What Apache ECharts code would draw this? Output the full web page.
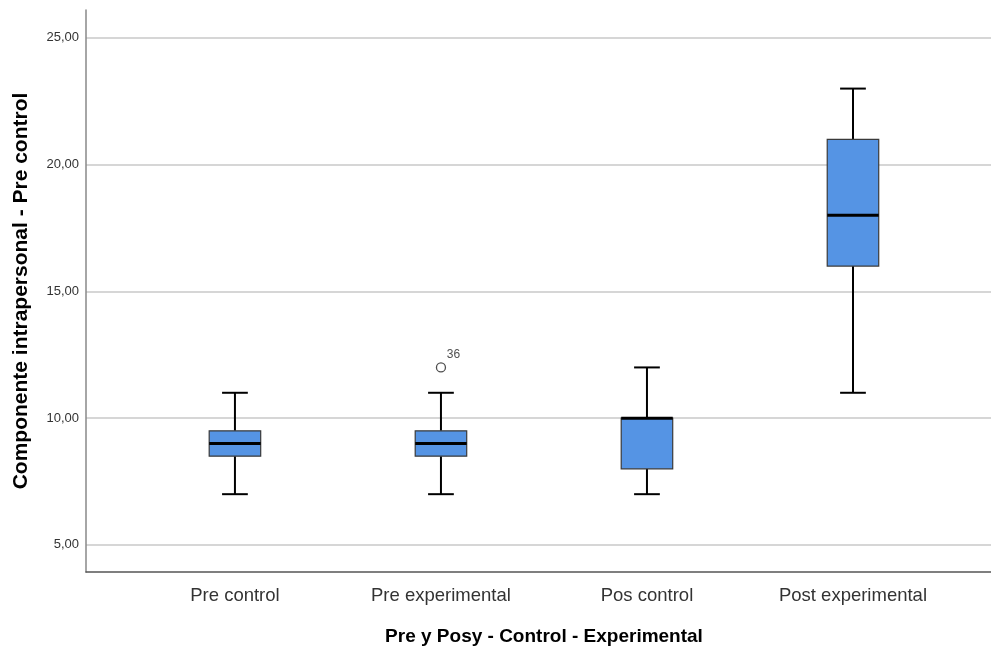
<!DOCTYPE html>
<html>
<head>
<meta charset="utf-8">
<script src="https://cdn.jsdelivr.net/npm/echarts@6/dist/echarts.min.js"></script>
<style>
html,body{margin:0;padding:0;background:#fff;}
#chart{width:991px;height:650px;}
</style>
</head>
<body>
<div id="chart"></div>
<script>
const categories = ['Pre control', 'Pre experimental', 'Pos control', 'Post experimental'];
const whiskerLow = [7, 7, 7, 11];
const quartile1 = [8.5, 8.5, 8, 16];
const medians = [9, 9, 10, 18];
const quartile3 = [9.5, 9.5, 10, 21];
const whiskerHigh = [11, 11, 12, 23];
const outlierCategory = [1];
const outlierValues = [12];
const outlierLabels = ['36'];
const yTickValues = [5, 10, 15, 20, 25];
const xTickValues = [0, 1, 2, 3];

const boxData = categories.map((c, i) => [i, whiskerLow[i], quartile1[i], medians[i], quartile3[i], whiskerHigh[i]]);
const outlierData = outlierCategory.map((c, i) => ({ value: [c, outlierValues[i]], label: outlierLabels[i] }));

const BOX_W = 0.25;   // in category units
const CAP_W = 0.125;

function renderBox(params, api) {
  const x = api.value(0);
  const lo = api.value(1), q1 = api.value(2), md = api.value(3), q3 = api.value(4), hi = api.value(5);
  const pLo = api.coord([x, lo]), pHi = api.coord([x, hi]);
  const pQ1 = api.coord([x, q1]), pQ3 = api.coord([x, q3]);
  const bl = api.coord([x - BOX_W / 2, md]), br = api.coord([x + BOX_W / 2, md]);
  const cl = api.coord([x - CAP_W / 2, lo]), cr = api.coord([x + CAP_W / 2, lo]);
  const clh = api.coord([x - CAP_W / 2, hi]), crh = api.coord([x + CAP_W / 2, hi]);
  const lineStyle = { stroke: '#000', lineWidth: 2 };
  return {
    type: 'group',
    children: [
      { type: 'line', shape: { x1: pLo[0], y1: pLo[1], x2: pQ1[0], y2: pQ1[1] }, style: lineStyle },
      { type: 'line', shape: { x1: pQ3[0], y1: pQ3[1], x2: pHi[0], y2: pHi[1] }, style: lineStyle },
      { type: 'line', shape: { x1: cl[0], y1: cl[1], x2: cr[0], y2: cr[1] }, style: lineStyle },
      { type: 'line', shape: { x1: clh[0], y1: clh[1], x2: crh[0], y2: crh[1] }, style: lineStyle },
      { type: 'rect', shape: { x: bl[0], y: pQ3[1], width: br[0] - bl[0], height: pQ1[1] - pQ3[1] },
        style: { fill: '#5594e4', stroke: '#3a3a3a', lineWidth: 1.2 } },
      { type: 'line', shape: { x1: bl[0], y1: bl[1], x2: br[0], y2: br[1] }, style: { stroke: '#000', lineWidth: 3 } }
    ]
  };
}

const chart = echarts.init(document.getElementById('chart'), null, { renderer: 'canvas' });
const FONT = 'Liberation Sans, Arial, sans-serif';
chart.setOption({
  animation: false,
  backgroundColor: '#fff',
  grid: { left: 86, right: 0, top: 10, bottom: 78, outerBoundsMode: 'none', containLabel: false },
  xAxis: {
    type: 'value',
    min: -0.723,
    max: 3.67,
    name: 'Pre y Posy - Control - Experimental',
    nameLocation: 'middle',
    nameGap: 55,
    nameTextStyle: { fontFamily: FONT, fontSize: 19, fontWeight: 'bold', color: '#000', padding: [0, 0, 0, 11] },
    axisLine: { show: true, onZero: false, lineStyle: { color: '#555', width: 1.5 } },
    axisTick: { show: false, customValues: xTickValues },
    splitLine: { show: false },
    axisLabel: {
      customValues: xTickValues,
      formatter: v => categories[Math.round(v)] || '',
      fontFamily: FONT, fontSize: 18.5, color: '#333', margin: 14
    }
  },
  yAxis: {
    type: 'value',
    min: 3.93,
    max: 26.1,
    name: 'Componente intrapersonal - Pre control',
    nameLocation: 'middle',
    nameGap: 54,
    nameTextStyle: { fontFamily: FONT, fontSize: 21, fontWeight: 'bold', color: '#000' },
    axisLine: { show: true, onZero: false, lineStyle: { color: '#888', width: 1.5 } },
    axisTick: { show: false, customValues: yTickValues },
    splitLine: { show: true, lineStyle: { color: '#c8c8c8', width: 1.5 } },
    axisLabel: {
      customValues: yTickValues,
      formatter: v => v.toFixed(2).replace('.', ','),
      fontFamily: FONT, fontSize: 13, color: '#333', margin: 7
    }
  },
  series: [
    {
      type: 'custom',
      renderItem: renderBox,
      data: boxData,
      encode: { x: 0, y: [1, 2, 3, 4, 5] },
      z: 3
    },
    {
      type: 'scatter',
      data: outlierData,
      symbol: 'circle',
      symbolSize: 9,
      itemStyle: { color: '#fff', borderColor: '#222', borderWidth: 1.3 },
      label: {
        show: true,
        position: [11, -14],
        formatter: p => p.data.label,
        fontFamily: FONT, fontSize: 12, color: '#222'
      },
      z: 4
    }
  ]
});
</script>
</body>
</html>
